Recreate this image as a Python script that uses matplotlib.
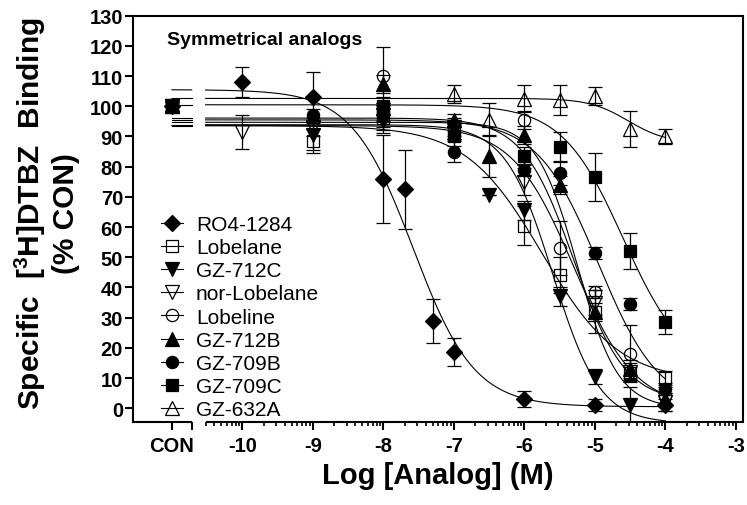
import numpy as np
import matplotlib
matplotlib.use("Agg")
import matplotlib.pyplot as plt
from matplotlib.lines import Line2D

plt.rcParams['font.family'] = ['Liberation Sans', 'DejaVu Sans']
plt.rcParams['mathtext.fontset'] = 'custom'
plt.rcParams['mathtext.rm'] = 'Liberation Sans:bold'
plt.rcParams['mathtext.bf'] = 'Liberation Sans:bold'
plt.rcParams['mathtext.it'] = 'Liberation Sans:bold'

# ---- axis layout (log molar units; control plotted on a separate stub) ----
CON_X = -11.0
CON_END = -10.72
AXIS_START = np.log10(3e-11)
X_MIN, X_MAX = -11.56, -2.90
Y_MIN, Y_MAX = -4.4, 130

names = ["RO4-1284", "Lobelane", "GZ-712C", "nor-Lobelane", "Lobeline",
         "GZ-712B", "GZ-709B", "GZ-709C", "GZ-632A"]

# control (% CON) values
con_mean = [100, 100, 100, 100, 100, 100, 100, 100, 100]
con_err = [1.5, 1.5, 1.5, 1.5, 1.5, 1.5, 1.5, 1.5, 1.5]

# log [analog] (M), mean, SEM for each compound
ro4_x = [-10, -9, -8, -7.7, -7.3, -7, -6, -5, -4]
ro4_y = [108, 103, 76, 72.5, 29, 18.5, 3, 1, 1]
ro4_e = [5, 8.5, 14.5, 13, 7.3, 4.6, 2.6, 2, 2]

lobelane_x = [-9, -8, -7, -6, -5.5, -5, -4.5, -4]
lobelane_y = [88.5, 96, 92, 60.5, 44, 32, 11.5, 10]
lobelane_e = [4, 4, 3, 6.5, 6, 7, 2, 2.2]

gz712c_x = [-9, -8, -7, -6.5, -6, -5.5, -5, -4.5]
gz712c_y = [90.5, 95, 92, 70.5, 65.5, 37, 10.5, 1]
gz712c_e = [5, 4, 3, 0, 3, 3, 2.5, 6]

norlob_x = [-10, -9, -8, -7, -6, -5, -4.5, -4]
norlob_y = [91.5, 93, 97, 93, 75, 35, 12, 2]
norlob_e = [5.7, 3, 4, 3, 4.5, 4, 3, 3]

lobeline_x = [-8, -7, -6, -5.5, -5, -4.5, -4]
lobeline_y = [110, 92, 95.5, 53, 38.5, 18, 4]
lobeline_e = [9.5, 3, 3, 9, 2, 9.4, 3]

gz712b_x = [-8, -7, -6.5, -6, -5.5, -5, -4.5, -4]
gz712b_y = [107.5, 95.5, 83.5, 90.5, 74, 32, 13, 3]
gz712b_e = [3, 2, 7, 3, 3, 3, 3, 2]

gz709b_x = [-9, -8, -7, -6, -5.5, -5, -4.5, -4]
gz709b_y = [97, 98, 85, 79, 78, 51.5, 34.5, 6.5]
gz709b_e = [2, 3, 3.5, 2, 4, 2, 2, 2]

gz709c_x = [-8, -7, -6, -5.5, -5, -4.5, -4]
gz709c_y = [100, 90, 83.5, 86.5, 76.5, 52, 28.5]
gz709c_e = [3, 3, 3, 5, 8, 6, 4]

gz632a_x = [-7, -6.5, -6, -5.5, -5, -4.5, -4]
gz632a_y = [104, 95.5, 102.5, 102, 103.5, 92.5, 90]
gz632a_e = [3, 5.5, 4.5, 5, 3, 6, 2.5]

# sigmoidal fit parameters: top, bottom, logIC50, Hill slope
fit_top = [105.5, 93.6, 93.9, 93.6, 96.1, 94.7, 95.5, 100.5, 102.6]
fit_bottom = [0.5, 9, -5, 0, 2, 0, 0, 12, 87.8]
fit_logic50 = [-7.58, -5.75, -5.6, -5.3, -5.3, -5.25, -4.95, -4.6, -4.53]
fit_hill = [1.0, 0.8, 1.3, 1.0, 1.2, 1.5, 1.0, 1.0, 1.58]

xs = [ro4_x, lobelane_x, gz712c_x, norlob_x, lobeline_x, gz712b_x, gz709b_x, gz709c_x, gz632a_x]
ys = [ro4_y, lobelane_y, gz712c_y, norlob_y, lobeline_y, gz712b_y, gz709b_y, gz709c_y, gz632a_y]
es = [ro4_e, lobelane_e, gz712c_e, norlob_e, lobeline_e, gz712b_e, gz709b_e, gz709c_e, gz632a_e]

markers = ['D', 's', 'v', 'v', 'o', '^', 'o', 's', '^']
msizes = [8, 9, 9.5, 9.5, 8.8, 9.5, 8.8, 9, 9.5]
filled = [True, False, True, False, False, True, True, True, False]


def hill(x, top, bottom, logic50, slope):
    return bottom + (top - bottom) / (1 + 10 ** ((x - logic50) * slope))


fig = plt.figure(figsize=(7.47, 5.06), dpi=100)
L, R, T, B = 132.5, 743, 16.7, 422.5
ax = fig.add_axes([L / 747, 1 - B / 506, (R - L) / 747, (B - T) / 506])
ax.set_xlim(X_MIN, X_MAX)
ax.set_ylim(Y_MIN, Y_MAX)

LW_AX = 1.5
for s in ['left', 'top', 'right']:
    ax.spines[s].set_linewidth(LW_AX)
ax.spines['bottom'].set_visible(False)
# broken x axis: control stub and log-concentration segment
xt = ax.get_xaxis_transform()
for x0, x1 in [(X_MIN, CON_END), (AXIS_START, X_MAX)]:
    ax.plot([x0, x1], [0, 0], transform=xt, color='k', lw=LW_AX,
            clip_on=False, solid_capstyle='butt', zorder=5)

seg_con = np.linspace(CON_X, CON_END, 20)
seg_main = np.linspace(AXIS_START, -4, 400)

for i in range(len(names)):
    mfc = 'k' if filled[i] else 'none'
    p = (fit_top[i], fit_bottom[i], fit_logic50[i], fit_hill[i])
    for seg in (seg_con, seg_main):
        ax.plot(seg, hill(seg, *p), color='k', lw=0.8, zorder=2)
    px = [CON_X] + xs[i]
    py = [con_mean[i]] + ys[i]
    pe = [con_err[i]] + es[i]
    ax.errorbar(px, py, yerr=pe, fmt=markers[i], ms=msizes[i], mfc=mfc,
                mec='k', mew=0.9, ecolor='k', elinewidth=0.9, capsize=5,
                capthick=0.9, zorder=3 + i * 0.1)

# ticks
major = [CON_X, CON_END] + list(range(-10, -2))
labels = ['CON', ''] + [str(v) for v in range(-10, -2)]
ax.set_xticks(major)
ax.set_xticklabels(labels)
minor = []
for n in range(-11, -3):
    for k in range(2, 10):
        v = n + np.log10(k)
        if AXIS_START - 1e-6 <= v <= X_MAX and v not in major:
            minor.append(v)
ax.set_xticks(minor, minor=True)
ax.set_yticks(np.arange(0, 131, 10))
ax.tick_params(axis='x', which='major', length=5.5, width=1.5, pad=5,
               labelsize=14.5)
ax.tick_params(axis='x', which='minor', length=3, width=1.2)
ax.tick_params(axis='y', which='major', length=5.8, width=1.5, pad=1,
               labelsize=14.5)
ax.tick_params(top=False, right=False, which='both')
for lab in ax.get_xticklabels() + ax.get_yticklabels():
    lab.set_fontweight('bold')

ax.set_xlabel('Log [Analog] (M)', fontsize=21, fontweight='bold', labelpad=4)
fig.text(46.5 / 747, 1 - 214 / 506,
         'Specific  [$^{3}$H]DTBZ  Binding\n(% CON)',
         rotation=90, ha='center', va='center', multialignment='center',
         fontsize=21.5, fontweight='bold', linespacing=1.15)
fig.text(167 / 747, 1 - 45 / 506, 'Symmetrical analogs', fontsize=14,
         fontweight='bold', va='baseline', ha='left')

handles = []
for i in range(len(names)):
    mfc = 'k' if filled[i] else 'none'
    handles.append(Line2D([], [], color='k', lw=0.8, marker=markers[i],
                          ms=msizes[i], mfc=mfc, mec='k', mew=0.9))
ax.legend(handles, names, loc='upper left',
          bbox_to_anchor=(160.7 / 747, 1 - 216 / 506),
          bbox_transform=fig.transFigure, frameon=False, fontsize=15,
          handlelength=1.09, handletextpad=0.6, labelspacing=0.2,
          borderpad=0, borderaxespad=0)

fig.savefig('out.png', dpi=100)
